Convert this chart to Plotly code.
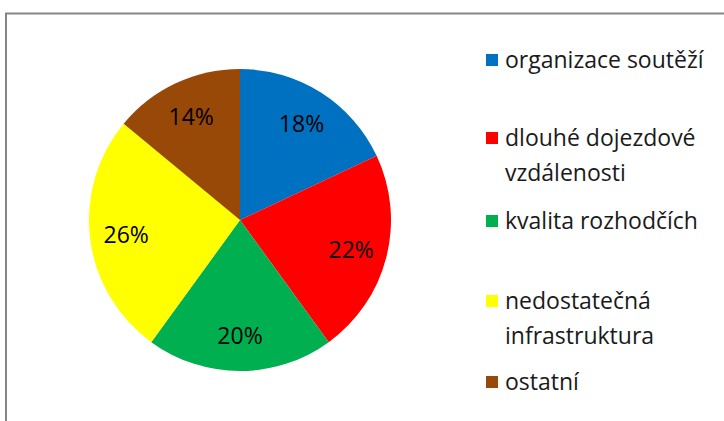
import plotly.graph_objects as go

# ---- data ----
labels = ["organizace soutěží", "dlouhé dojezdové vzdálenosti", "kvalita rozhodčích",
          "nedostatečná infrastruktura", "ostatní"]
legend_lines = [["organizace soutěží"], ["dlouhé dojezdové", "vzdálenosti"], ["kvalita rozhodčích"],
                ["nedostatečná", "infrastruktura"], ["ostatní"]]
values = [18, 22, 20, 26, 14]
colors = ["#0070C0", "#FF0000", "#00B050", "#FFFF00", "#984807"]

W, H = 724, 421
FONT = "Open Sans"

cx, cy, r = 240, 220, 151
dom = dict(x=[(cx - r) / W, (cx + r) / W], y=[(H - cy - r) / H, (H - cy + r) / H])

fig = go.Figure()
# coloured slices
fig.add_trace(go.Pie(
    labels=labels, values=values, sort=False, direction="clockwise", rotation=0,
    marker=dict(colors=colors, line=dict(width=0)),
    textinfo="none", domain=dom, showlegend=False, hoverinfo="label+percent",
))
# transparent ring carrying the percentage labels (places them in the outer part of the slices)
fig.add_trace(go.Pie(
    labels=labels, values=values, sort=False, direction="clockwise", rotation=0, hole=0.52,
    marker=dict(colors=["rgba(0,0,0,0)"] * len(values), line=dict(width=0)),
    textinfo="percent", textposition="inside", insidetextorientation="horizontal",
    textfont=dict(family=FONT, size=23, color="#000000"),
    domain=dom, showlegend=False, hoverinfo="skip",
))

shapes = []
annotations = []
# frame
shapes.append(dict(type="rect", xref="paper", yref="paper",
                   x0=6 / W, x1=1.05, y0=-0.05, y1=1 - 13.5 / H,
                   line=dict(color="#868686", width=2), fillcolor="rgba(0,0,0,0)", layer="below"))

# manual legend (Excel-like spacing)
first_y = [59, 137, 220, 300, 381]
line_gap = 35
sq = 12
for i, (lines, col) in enumerate(zip(legend_lines, colors)):
    y0 = first_y[i]
    shapes.append(dict(type="rect", xref="paper", yref="paper",
                       x0=486 / W, x1=(486 + sq) / W,
                       y0=1 - (y0 + 1 + sq / 2) / H, y1=1 - (y0 + 1 - sq / 2) / H,
                       line=dict(width=0), fillcolor=col))
    for j, t in enumerate(lines):
        annotations.append(dict(xref="paper", yref="paper", x=503 / W, y=1 - (y0 + j * line_gap) / H,
                                xanchor="left", yanchor="middle", text=t, showarrow=False,
                                font=dict(family=FONT, size=23, color="#1a1a1a")))

fig.update_layout(
    width=W, height=H, margin=dict(l=0, r=0, t=0, b=0),
    paper_bgcolor="white", plot_bgcolor="white",
    shapes=shapes, annotations=annotations,
    font=dict(family=FONT),
)

fig.write_html("out.html", config={"displayModeBar": False},
               post_script="document.body.style.margin='0';")
